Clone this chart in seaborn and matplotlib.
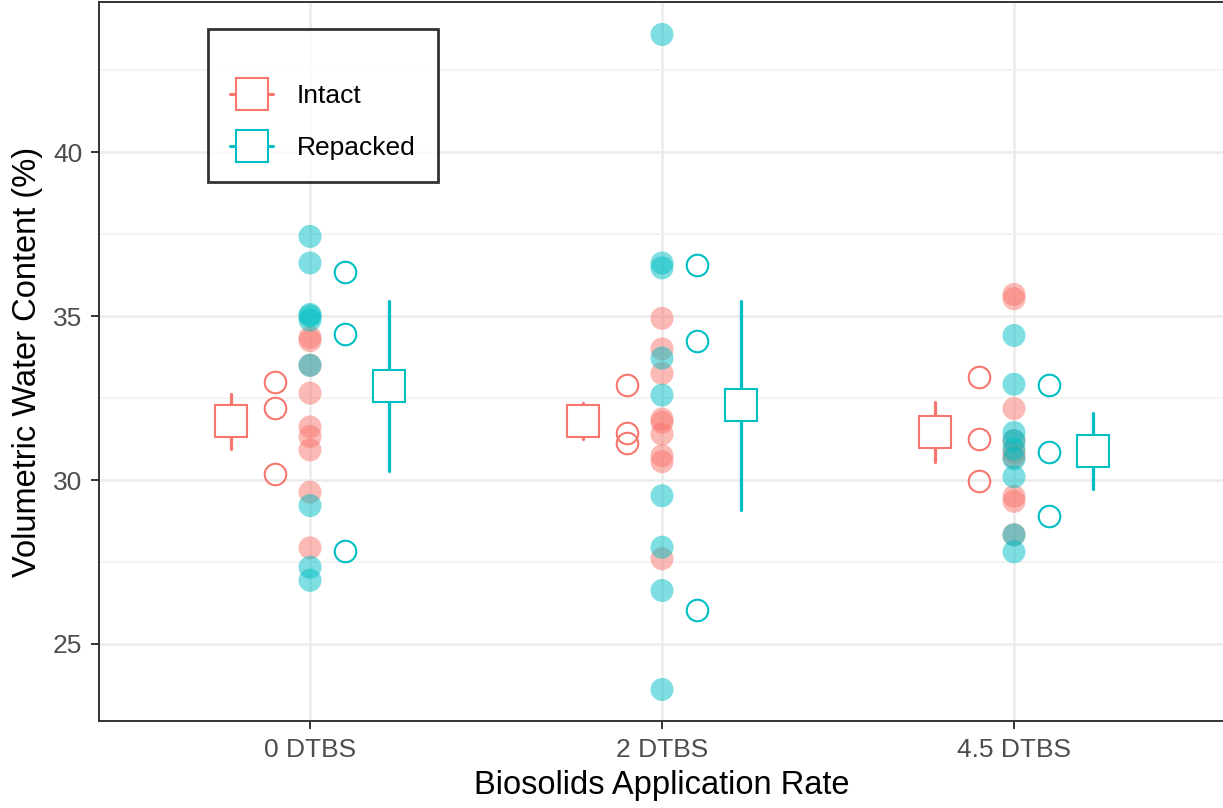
import pandas as pd
import matplotlib
matplotlib.use('Agg')  # без дисплея
import matplotlib.pyplot as plt
from matplotlib.lines import Line2D
from matplotlib.ticker import MultipleLocator
import seaborn as sns

rates = ['0 DTBS', '2 DTBS', '4.5 DTBS']
methods = ['Intact', 'Repacked']
palette = {'Intact': '#F8766D', 'Repacked': '#00BFC4'}

# individual readings (filled points)
intact_0 = [34.35, 34.25, 33.5, 32.65, 31.62, 31.33, 30.92, 29.63, 27.93]
repacked_0 = [37.43, 36.62, 35.05, 35.0, 34.88, 33.5, 29.22, 27.34, 26.94]
intact_2 = [34.93, 34.0, 33.25, 31.86, 31.76, 31.4, 30.74, 30.56, 27.6]
repacked_2 = [43.59, 36.62, 36.47, 33.72, 32.59, 29.52, 27.95, 26.63, 23.61]
intact_45 = [35.66, 35.53, 32.18, 31.2, 30.85, 30.7, 29.5, 29.35, 28.33]
repacked_45 = [34.41, 32.92, 31.45, 31.2, 30.95, 30.65, 30.1, 28.33, 27.81]

# replicate means (open circles)
intact_rep_0 = [33.0, 32.19, 30.17]
repacked_rep_0 = [36.34, 34.44, 27.82]
intact_rep_2 = [32.9, 31.42, 31.12]
repacked_rep_2 = [36.55, 34.24, 26.04]
intact_rep_45 = [33.15, 31.25, 29.98]
repacked_rep_45 = [32.9, 30.84, 28.91]

raw_groups = {
    ('0 DTBS', 'Intact'): intact_0, ('0 DTBS', 'Repacked'): repacked_0,
    ('2 DTBS', 'Intact'): intact_2, ('2 DTBS', 'Repacked'): repacked_2,
    ('4.5 DTBS', 'Intact'): intact_45, ('4.5 DTBS', 'Repacked'): repacked_45,
}
rep_groups = {
    ('0 DTBS', 'Intact'): intact_rep_0, ('0 DTBS', 'Repacked'): repacked_rep_0,
    ('2 DTBS', 'Intact'): intact_rep_2, ('2 DTBS', 'Repacked'): repacked_rep_2,
    ('4.5 DTBS', 'Intact'): intact_rep_45, ('4.5 DTBS', 'Repacked'): repacked_rep_45,
}

raw = pd.DataFrame([(r, m, v) for (r, m), vals in raw_groups.items() for v in vals],
                   columns=['rate', 'method', 'vwc'])
reps = pd.DataFrame([(r, m, i, v) for (r, m), vals in rep_groups.items() for i, v in enumerate(vals)],
                    columns=['rate', 'method', 'rep', 'vwc'])

sns.set_theme(style='white')
plt.rcParams['font.family'] = ['Liberation Sans', 'DejaVu Sans']

fig = plt.figure(figsize=(12.23, 8.08), dpi=100)
ax = fig.add_axes([0.0808, 0.1077, 0.921, 0.8898])

# сырые точки
sns.stripplot(data=raw, x='rate', y='vwc', hue='method', order=rates, hue_order=methods,
              palette=palette, jitter=False, dodge=False, size=16.6, alpha=0.5,
              linewidth=0, legend=False, ax=ax, zorder=2)

# средние по повторностям
for i in range(3):
    sns.pointplot(data=reps[reps['rep'] == i], x='rate', y='vwc', hue='method',
                  order=rates, hue_order=methods, palette=palette, dodge=0.2,
                  errorbar=None, markers='o', linestyles='none',
                  markerfacecolor='none', markersize=15.5, markeredgewidth=1.5,
                  legend=False, ax=ax, zorder=3)

# среднее +- SE
sns.pointplot(data=reps, x='rate', y='vwc', hue='method', order=rates, hue_order=methods,
              palette=palette, dodge=0.45, errorbar='se', markers='s', linestyles='none',
              markerfacecolor='white', markersize=23.5, markeredgewidth=1.5,
              err_kws={'linewidth': 2.3, 'linestyle': '-', 'zorder': 4},
              legend=False, ax=ax, zorder=5)

ax.set_xlim(-0.6, 2.6)
ax.set_ylim(22.65, 44.58)
ax.yaxis.set_major_locator(MultipleLocator(5))
ax.yaxis.set_minor_locator(MultipleLocator(2.5))
ax.grid(True, which='major', color='#EBEBEB', linewidth=1.8)
ax.grid(True, which='minor', axis='y', color='#F2F2F2', linewidth=1.3)
ax.set_axisbelow(True)
for s in ax.spines.values():
    s.set_visible(True)
    s.set_color('#333333')
    s.set_linewidth(1.4)

ax.tick_params(which='major', length=6, width=1.4, color='#333333', pad=6,
               labelsize=19, labelcolor='#4D4D4D', bottom=True, left=True)
ax.tick_params(which='minor', length=0)
ax.set_xlabel('Biosolids Application Rate', fontsize=23.5, color='black', labelpad=6)
ax.set_ylabel('Volumetric Water Content (%)', fontsize=23.5, color='black', labelpad=7)

handles = [Line2D([0], [0], color=palette[m], marker='s', markersize=23.5,
                  markerfacecolor='white', markeredgewidth=1.5, linewidth=2.2)
           for m in methods]
leg = ax.legend(handles, methods, loc='upper left',
                bbox_to_anchor=(208 / 1223, 1 - 29 / 808), bbox_transform=fig.transFigure,
                fontsize=19, title=' ', title_fontsize=4, frameon=True, fancybox=False,
                borderpad=0.85, labelspacing=1.05, handlelength=1.6,
                handletextpad=0.9, borderaxespad=0, labelcolor='black')
leg.get_frame().set_edgecolor('black')
leg.get_frame().set_linewidth(2.0)

fig.savefig('out.png', dpi=100)
